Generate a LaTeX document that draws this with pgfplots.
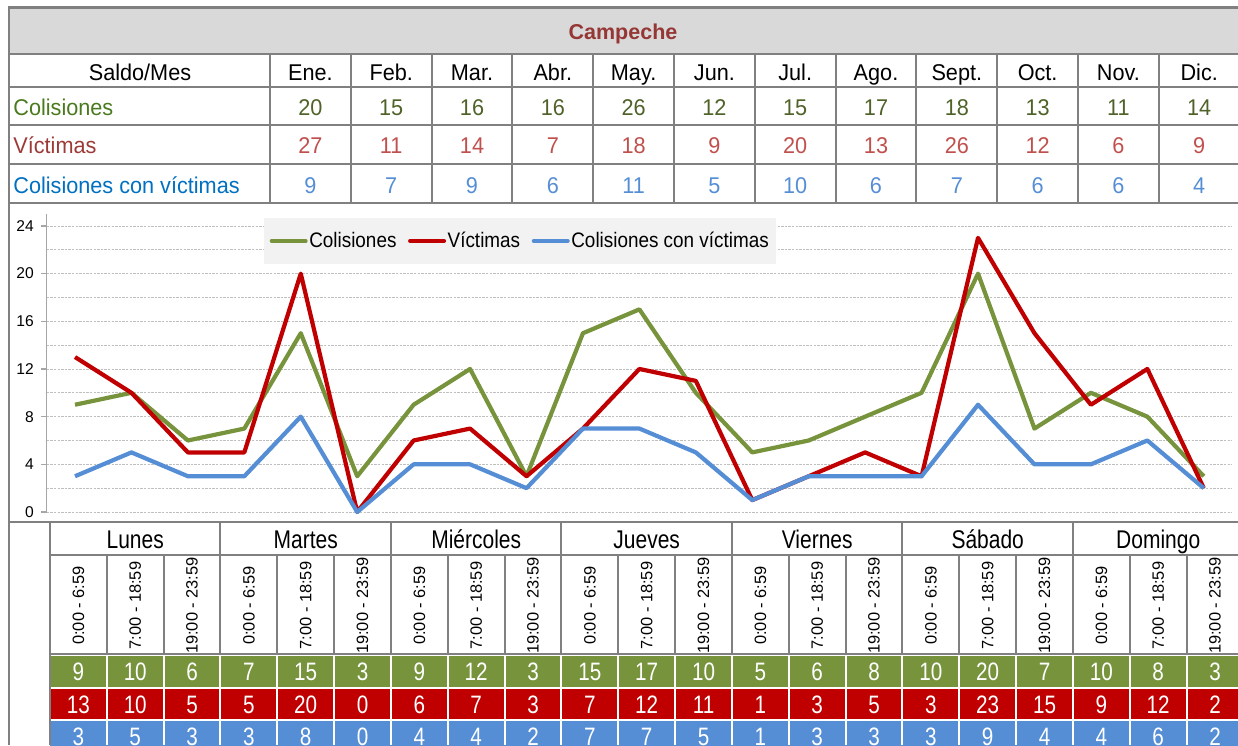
\documentclass[border=0pt]{standalone}
\usepackage{pgfplots}
\pgfplotsset{compat=1.18}
\usepackage{pgfplotstable}
\usepackage{fontspec}
\setmainfont{Liberation Sans}
\newfontfamily\topfont{Liberation Sans}[FakeStretch=0.95]
\newfontfamily\narrowfont{Liberation Sans}[FakeStretch=0.82]
\newfontfamily\legfont{Liberation Sans}[FakeStretch=0.9]
\definecolor{cgreen}{HTML}{77933C}
\definecolor{cred}{HTML}{C00000}
\definecolor{cblue}{HTML}{558ED5}
\definecolor{tgreen}{HTML}{4F6228}
\definecolor{tgreenlab}{HTML}{4A7A1E}
\definecolor{tred}{HTML}{C0504D}
\definecolor{tredlab}{HTML}{9C3A37}
\definecolor{tblue}{HTML}{558ED5}
\definecolor{tbluelab}{HTML}{0070C0}
\definecolor{titlered}{HTML}{953735}
\definecolor{bordergray}{HTML}{808080}
\definecolor{titlegray}{HTML}{D9D9D9}
\definecolor{leggray}{HTML}{F2F2F2}
\definecolor{gridgray}{HTML}{BFBFBF}
\definecolor{axisgray}{HTML}{A6A6A6}

\pgfplotstableread{
x col vic cv
0 9 13 3
1 10 10 5
2 6 5 3
3 7 5 3
4 15 20 8
5 3 0 0
6 9 6 4
7 12 7 4
8 3 3 2
9 15 7 7
10 17 12 7
11 10 11 5
12 5 1 1
13 6 3 3
14 8 5 3
15 10 3 3
16 20 23 9
17 7 15 4
18 10 9 4
19 8 12 6
20 3 2 2
}\datatable

\begin{document}
\begin{tikzpicture}
\useasboundingbox (0,0) rectangle (619pt,-372.5pt);
\begin{scope}[x=0.5pt,y=-0.5pt]
% ---------- top table ----------
\fill[titlegray] (9,7.5) rectangle (1238,54);
\begin{scope}[draw=bordergray, line width=1pt]
\foreach \y in {54,86.7,125.3,164,202.7} \draw (9,\y) -- (1238,\y);
\foreach \k in {0,...,11} \draw ({270+80.8*\k},54) -- ({270+80.8*\k},202.7);
\draw (9,522) -- (1238,522);
\draw (50,555) -- (1238,555);
\draw (50,654) -- (1238,654);
\foreach \k in {1,...,6} \draw ({50+56.83*3*\k},522) -- ({50+56.83*3*\k},555);
\foreach \k in {1,...,20} \draw ({50+56.83*\k},555) -- ({50+56.83*\k},654);
\end{scope}
% colored value rows
\fill[cgreen] (50,656) rectangle (1238,686.5);
\fill[cred] (50,688.5) rectangle (1238,718.5);
\fill[cblue] (50,720.5) rectangle (1238,750);
\foreach \k in {1,...,20} \draw[white, line width=1pt] ({50+56.83*\k},655) -- ({50+56.83*\k},745);
\draw[bordergray, line width=1pt] (50,522) -- (50,745);
\draw[bordergray, line width=1.3pt] (9,745) -- (9,7.5) -- (1238,7.5);

\node[anchor=base, inner sep=0pt, font=\bfseries\fontsize{10.75}{13}\selectfont, text=titlered] at (623,39.3) {Campeche};
\begin{scope}[every node/.style={anchor=base, inner sep=0pt, font=\topfont\fontsize{11.4}{13}\selectfont}]
\node at (140,80) {Saldo/Mes};
\foreach \m [count=\k from 0] in {Ene.,Feb.,Mar.,Abr.,May.,Jun.,Jul.,Ago.,Sept.,Oct.,Nov.,Dic.}
  \node at ({270+80.8*(\k+0.5)},80) {\m};
\node[anchor=base west, text=tgreenlab] at (13,115) {Colisiones};
\node[anchor=base west, text=tredlab] at (13,153.5) {Víctimas};
\node[anchor=base west, text=tbluelab] at (13,193) {Colisiones con víctimas};
\foreach \v [count=\k from 0] in {20,15,16,16,26,12,15,17,18,13,11,14}
  \node[text=tgreen] at ({270+80.8*(\k+0.5)},115) {\v};
\foreach \v [count=\k from 0] in {27,11,14,7,18,9,20,13,26,12,6,9}
  \node[text=tred] at ({270+80.8*(\k+0.5)},153.5) {\v};
\foreach \v [count=\k from 0] in {9,7,9,6,11,5,10,6,7,6,6,4}
  \node[text=tblue] at ({270+80.8*(\k+0.5)},193) {\v};
\end{scope}
% ---------- bottom table ----------
\foreach \d [count=\i from 0] in {Lunes,Martes,Miércoles,Jueves,Viernes,Sábado,Domingo}
  \node[anchor=base, inner sep=0pt, font=\narrowfont\fontsize{12.8}{14}\selectfont] at ({50+56.83*(3*\i+1.5)},548.3) {\d};
\foreach \i in {0,...,6}{
  \foreach \t [count=\j from 0] in {0:00 - 6:59,7:00 - 18:59,19:00 - 23:59}
    \node[rotate=90, inner sep=0pt, font=\fontsize{8.2}{9}\selectfont] at ({50+56.83*(3*\i+\j+0.5)},605.5) {\t};
}
\begin{scope}[every node/.style={anchor=base, inner sep=0pt, text=white, font=\narrowfont\fontsize{12.6}{14}\selectfont}]
\foreach \v [count=\k from 0] in {9,10,6,7,15,3,9,12,3,15,17,10,5,6,8,10,20,7,10,8,3}
  \node at ({50+56.83*(\k+0.5)},680.5) {\v};
\foreach \v [count=\k from 0] in {13,10,5,5,20,0,6,7,3,7,12,11,1,3,5,3,23,15,9,12,2}
  \node at ({50+56.83*(\k+0.5)},713) {\v};
\foreach \v [count=\k from 0] in {3,5,3,3,8,0,4,4,2,7,7,5,1,3,3,3,9,4,4,6,2}
  \node at ({50+56.83*(\k+0.5)},745) {\v};
\end{scope}
\end{scope}

% ---------- chart ----------
\begin{axis}[
  at={(23.4pt,-256pt)}, anchor=south west,
  scale only axis, width=592.6pt, height=149pt,
  xmin=-0.5, xmax=20.5, ymin=0, ymax=25,
  clip=false,
  axis lines*=left,
  x axis line style={draw=none},
  y axis line style={draw=axisgray, line width=0.6pt},
  xtick=\empty,
  ytick={0,4,...,24}, minor ytick={2,6,...,22},
  grid=both,
  major grid style={gridgray, line width=0.4pt, dash pattern=on 1.2pt off 0.6pt},
  minor grid style={gridgray, line width=0.4pt, dash pattern=on 1.2pt off 0.6pt},
  tick align=outside, major tick length=3pt, minor tick length=0pt,
  tick style={axisgray, line width=0.6pt},
  /pgf/number format/assume math mode=true,
  yticklabel style={font=\fontsize{7.8}{9}\selectfont, text=black},
  legend style={at={(0.3993,0.9097)}, anchor=center, fill=leggray, draw=none,
    font=\legfont\fontsize{10.5}{12}\selectfont, legend columns=3,
    inner xsep=3pt, inner ysep=5pt,
    nodes={inner xsep=0.8pt},
    /tikz/every odd column/.append style={column sep=0pt},
    /tikz/every even column/.append style={column sep=5pt}},
  legend image code/.code={\draw[#1, line width=2pt, line cap=round] (0pt,0pt) -- (17pt,0pt);},
]
\addplot[cgreen, line width=2.1pt, line join=round] table[x=x, y=col] {\datatable};
\addlegendentry{Colisiones}
\addplot[cred, line width=2.1pt, line join=round] table[x=x, y=vic] {\datatable};
\addlegendentry{Víctimas}
\addplot[cblue, line width=2.1pt, line join=round] table[x=x, y=cv] {\datatable};
\addlegendentry{Colisiones con víctimas}
\end{axis}
\end{tikzpicture}
\end{document}
